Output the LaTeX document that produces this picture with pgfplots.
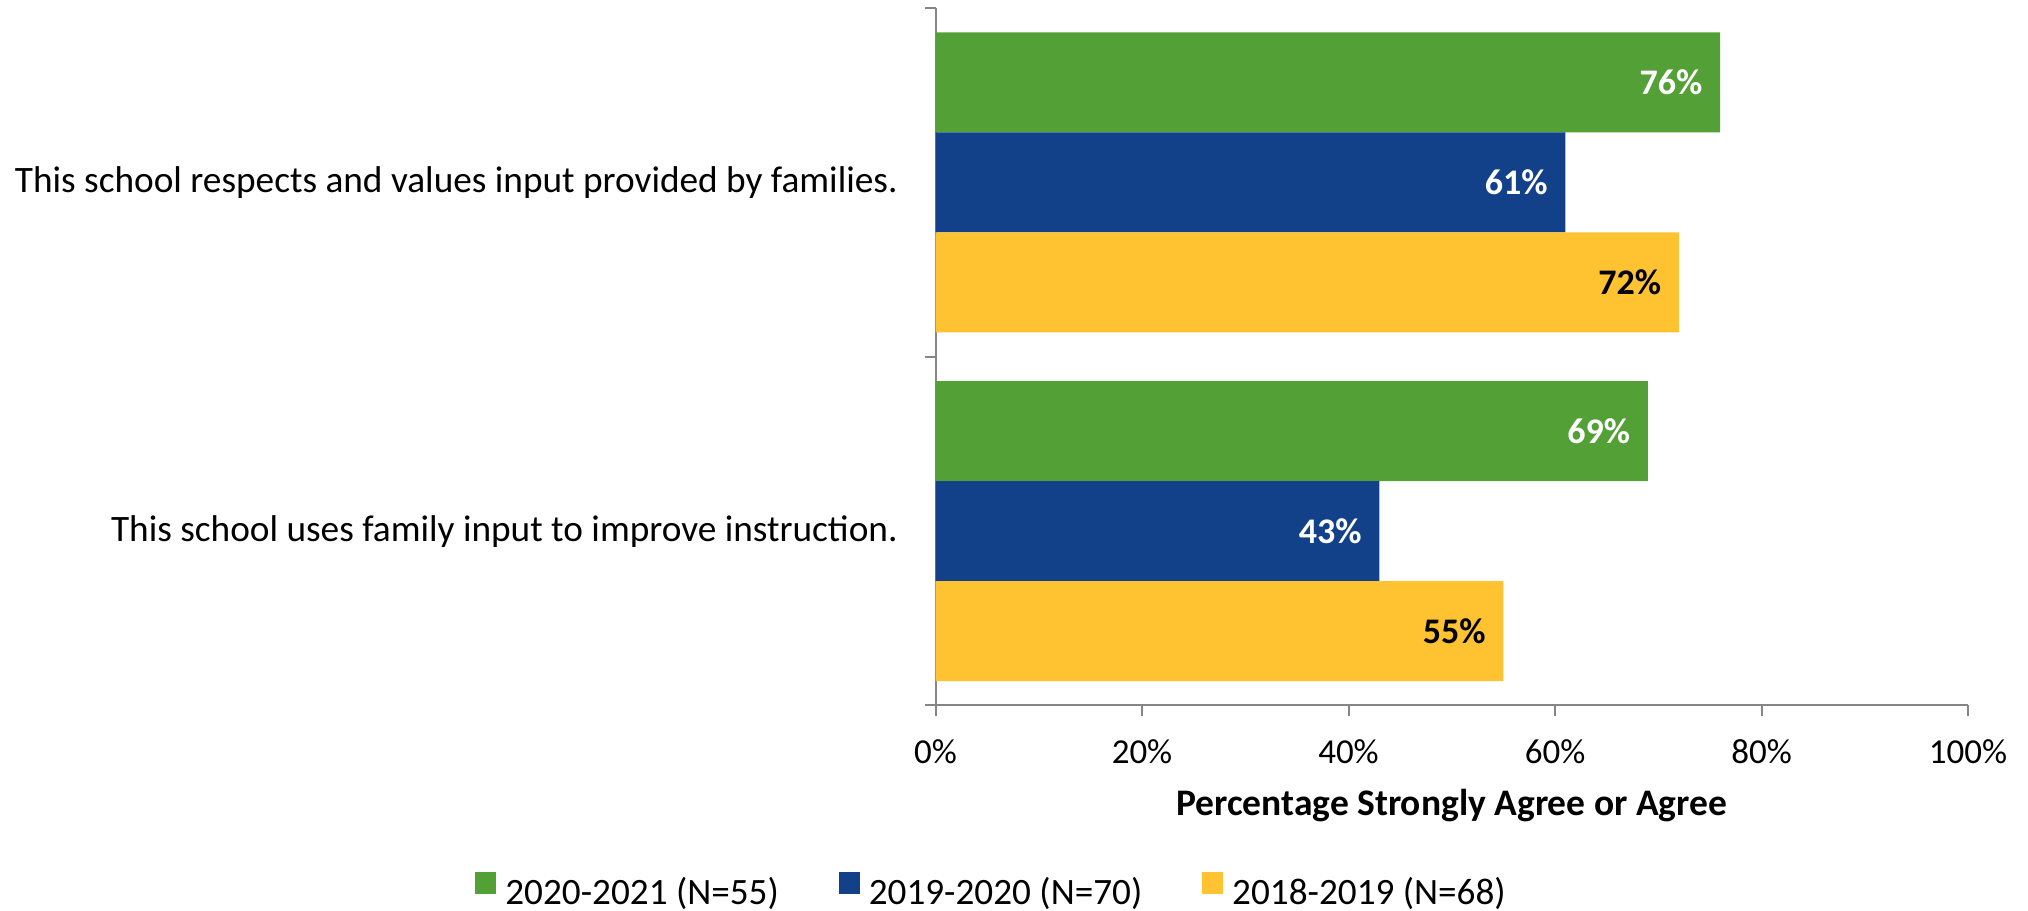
\documentclass[border=0pt]{standalone}
\usepackage{pgfplots}
\pgfplotsset{compat=1.18}
\usepackage{fontspec}
\setmainfont{Carlito}
\definecolor{cgreen}{RGB}{83,160,54}
\definecolor{cblue}{RGB}{18,65,137}
\definecolor{cyellow}{RGB}{255,195,50}
\definecolor{axgray}{RGB}{134,134,134}
\begin{document}
\fontsize{17.5}{21}\selectfont
\begin{tikzpicture}
\useasboundingbox (0,0) rectangle (1014pt,455pt);
\begin{axis}[
  at={(467.75pt,102.3pt)}, anchor=south west,
  width=516.25pt, height=348.7pt, scale only axis,
  xbar, bar width=50pt,
  xmin=0, xmax=100, ymin=-0.5, ymax=1.5,
  axis x line*=bottom, axis y line*=left,
  axis line style={axgray, line width=1pt},
  /pgf/number format/assume math mode=true,
  xtick={0,20,40,60,80,100},
  xticklabel={\pgfmathprintnumber{\tick}\%},
  ytick={0,1},
  yticklabels={This school uses family input to improve instruction., This school respects and values input provided by families.},
  minor ytick={-0.5,0.5,1.5},
  tick align=outside,
  major tick length=5.5pt, minor tick length=5.5pt,
  x tick style={axgray, line width=1pt},
  minor y tick style={axgray, line width=1pt},
  major y tick style={draw=none},
  xticklabel style={anchor=base, yshift=-23.75pt, inner sep=0pt, font=\fontsize{17.5}{21}\selectfont},
  yticklabel style={anchor=base east, inner sep=0pt, xshift=-13.2pt, yshift=-5.2pt, font=\fontsize{18.65}{22}\selectfont},
  xlabel={\textbf{Percentage Strongly Agree or Agree}},
  xlabel style={at={(axis description cs:0.5,0)}, anchor=base, yshift=-55pt, inner sep=0pt, font=\fontsize{18.75}{22}\selectfont},
  point meta=x,
  nodes near coords={\pgfmathprintnumber{\pgfplotspointmeta}\%},
  nodes near coords style={anchor=east, xshift=-8.7pt, inner sep=0pt, font=\fontsize{18}{21}\selectfont\bfseries},
  legend style={at={(axis description cs:0.0533,-0.266)}, anchor=center, draw=none,
    legend columns=3, nodes={inner sep=0pt}, font=\fontsize{18.6}{22}\selectfont,
    /tikz/every odd column/.append style={column sep=4.5pt},
    /tikz/every even column/.append style={column sep=30pt}},
  legend image code/.code={\fill[#1] (0pt,0pt) rectangle (10.5pt,10.8pt);},
]
\addplot[fill=cgreen, draw=none, bar shift=50pt, every node near coord/.append style={text=white}] coordinates {(69,0) (76,1)};
\addplot[fill=cblue, draw=none, bar shift=0pt, every node near coord/.append style={text=white}] coordinates {(43,0) (61,1)};
\addplot[fill=cyellow, draw=none, bar shift=-50pt, every node near coord/.append style={text=black}] coordinates {(55,0) (72,1)};
\legend{2020-2021 (N=55), 2019-2020 (N=70), 2018-2019 (N=68)}
\end{axis}
\end{tikzpicture}
\end{document}
